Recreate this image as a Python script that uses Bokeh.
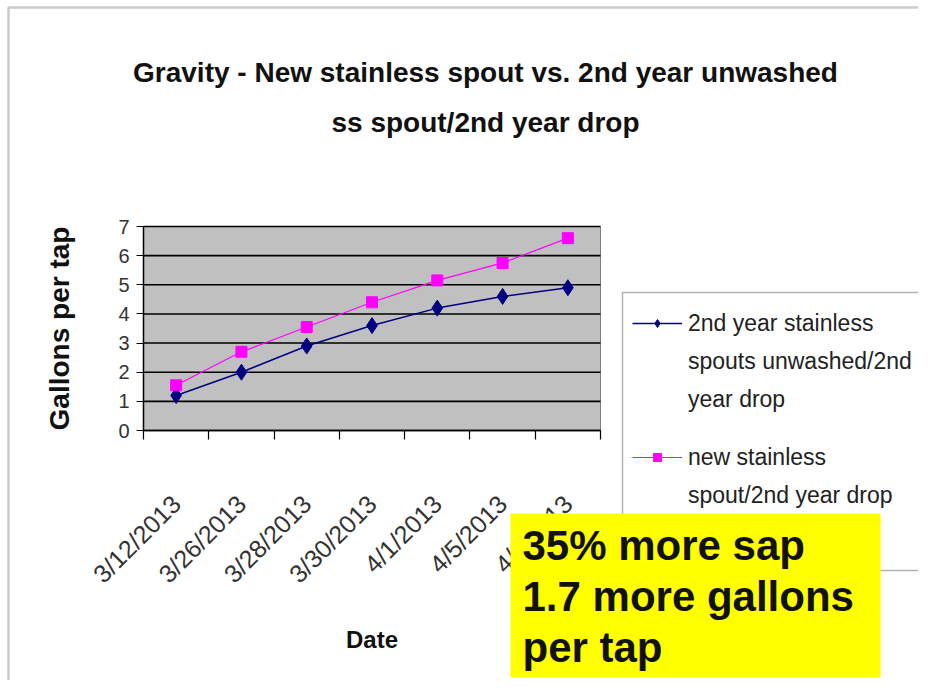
import math
from bokeh.plotting import figure
from bokeh.models import (FixedTicker, Label, BoxAnnotation, Legend, LegendItem,
                          Range1d, LinearAxis)
from bokeh.embed import file_html
from bokeh.resources import INLINE

# ---- data ----
dates = ["3/12/2013", "3/26/2013", "3/28/2013", "3/30/2013", "4/1/2013", "4/5/2013", "4/8/2013"]
used_spout = [1.2, 2.0, 2.9, 3.6, 4.2, 4.6, 4.9]
new_spout = [1.55, 2.7, 3.55, 4.4, 5.15, 5.75, 6.6]
y_ticks = [0, 1, 2, 3, 4, 5, 6, 7]
series_names = ["2nd year stainless\nspouts unwashed/2nd\nyear drop",
                "new stainless\nspout/2nd year drop"]
title_lines = ["Gravity - New stainless spout vs. 2nd year unwashed",
               "ss spout/2nd year drop"]
note_lines = ["35% more sap", "1.7 more gallons", "per tap"]

SANS = "Liberation Sans, Arial, sans-serif"

# ---- layout (pixels on the canvas, from top-left) ----
W, H = 918, 680
PL, PR, PT, PB = 143, 600, 226, 430     # plot-area box
n = len(dates)
y_max = y_ticks[-1]
sx = (PR - PL) / n
sy = (PB - PT) / y_max
x_range = Range1d(-PL / sx, n + (W - PR) / sx)
y_range = Range1d(-(H - PB) / sy, y_max + PT / sy)

xs = [i + 0.5 for i in range(n)]

p = figure(width=W, height=H, output_backend="svg", toolbar_location=None,
           x_range=x_range, y_range=y_range,
           x_axis_location=None, y_axis_location=None, min_border=0)
p.outline_line_color = None
p.background_fill_color = "white"
p.border_fill_color = "white"
p.grid.visible = False

# plot area
p.quad(left=[0], right=[n], bottom=[0], top=[y_max], fill_color="#C0C0C0",
       line_color="#808080", line_width=1)
p.segment(x0=[0] * len(y_ticks), x1=[n] * len(y_ticks), y0=y_ticks, y1=y_ticks,
          line_color="black", line_width=1.6)

# y axis
yaxis = LinearAxis(fixed_location=0, bounds=(0, y_max),
                   ticker=FixedTicker(ticks=y_ticks))
yaxis.axis_line_color = "black"
yaxis.axis_line_width = 1.5
yaxis.major_tick_out = 7
yaxis.major_tick_in = 0
yaxis.major_tick_line_color = "black"
yaxis.minor_tick_line_color = None
yaxis.major_label_text_font = SANS
yaxis.major_label_text_font_size = "20px"
yaxis.major_label_text_color = "#333333"
yaxis.major_label_standoff = 7
yaxis.axis_label = "Gallons per tap"
yaxis.axis_label_text_font = SANS
yaxis.axis_label_text_font_style = "bold"
yaxis.axis_label_text_font_size = "28px"
yaxis.axis_label_text_color = "#111111"
yaxis.axis_label_standoff = 40
p.add_layout(yaxis, "left")

# x axis
xaxis = LinearAxis(fixed_location=0, bounds=(0, n),
                   ticker=FixedTicker(ticks=xs, minor_ticks=list(range(n + 1))))
xaxis.major_label_overrides = {x: d for x, d in zip(xs, dates)}
xaxis.major_label_orientation = math.pi / 4
xaxis.axis_line_color = "black"
xaxis.axis_line_width = 1.5
xaxis.major_tick_out = 0
xaxis.major_tick_in = 0
xaxis.minor_tick_out = 9
xaxis.minor_tick_in = 0
xaxis.minor_tick_line_color = "black"
xaxis.minor_tick_line_width = 1.2
xaxis.major_label_text_font = SANS
xaxis.major_label_text_font_size = "25px"
xaxis.major_label_text_color = "#333333"
xaxis.major_label_standoff = 60
xaxis.axis_label = "Date"
xaxis.axis_label_text_font = SANS
xaxis.axis_label_text_font_style = "bold"
xaxis.axis_label_text_font_size = "24px"
xaxis.axis_label_text_color = "#111111"
xaxis.axis_label_standoff = 25
p.add_layout(xaxis, "below")

# series
l1 = p.line(xs, used_spout, line_color="#000080", line_width=1.5)
m1 = p.scatter(xs, used_spout, marker="diamond", size=16, fill_color="#000080",
               line_color="#000080")
l2 = p.line(xs, new_spout, line_color="#FF00FF", line_width=1.2)
m2 = p.scatter(xs, new_spout, marker="square", size=11, fill_color="#FF00FF",
               line_color="#FF00FF")

# legend frame
p.add_layout(BoxAnnotation(left=622, right=2000, bottom=H - 570, top=H - 292,
                           left_units="screen", right_units="screen",
                           bottom_units="screen", top_units="screen",
                           fill_color="white", fill_alpha=1,
                           line_color="black", line_width=1.5))

# legends: one per series, one row per text line (glyph beside the first line)
legend_tops = [304, 438]
for name, rends, top in zip(series_names, [[l1, m1], [l2, m2]], legend_tops):
    lines = name.split("\n")
    items = [LegendItem(label=t, renderers=(rends if k == 0 else []))
             for k, t in enumerate(lines)]
    lg = Legend(items=items, location=(632, H - (top + 38 * len(lines))))
    lg.border_line_color = None
    lg.background_fill_alpha = 0
    lg.label_text_font = SANS
    lg.label_text_font_size = "23px"
    lg.label_text_color = "#222222"
    lg.label_height = 38
    lg.glyph_width = 50
    lg.glyph_height = 20
    lg.label_standoff = 6
    lg.padding = 0
    lg.spacing = 0
    lg.margin = 0
    p.add_layout(lg, "center")

# title
for i, t in enumerate(title_lines):
    p.add_layout(Label(x=485, y=H - 72 - 50 * i, x_units="screen", y_units="screen",
                       text=t, text_align="center", text_baseline="middle",
                       text_font=SANS, text_font_style="bold",
                       text_font_size="28px", text_color="#111111"))

# outer border (left and top edges visible)
p.add_layout(BoxAnnotation(left=8, right=2000, bottom=-200, top=H - 7,
                           left_units="screen", right_units="screen",
                           bottom_units="screen", top_units="screen",
                           fill_color=None, line_color="#505050", line_width=2.5))

# yellow note (drawn above the legend)
p.add_layout(BoxAnnotation(left=510, right=880, bottom=H - 677, top=H - 513,
                           left_units="screen", right_units="screen",
                           bottom_units="screen", top_units="screen",
                           fill_color="#FFFF00", fill_alpha=1, line_color=None,
                           level="overlay"))
for i, t in enumerate(note_lines):
    p.add_layout(Label(x=522, y=H - 545 - 51 * i, x_units="screen", y_units="screen",
                       text=t, text_align="left", text_baseline="middle",
                       text_font=SANS, text_font_style="bold",
                       text_font_size="42px", text_color="#111111",
                       level="overlay"))

open("out.html", "w").write(file_html(p, INLINE))
